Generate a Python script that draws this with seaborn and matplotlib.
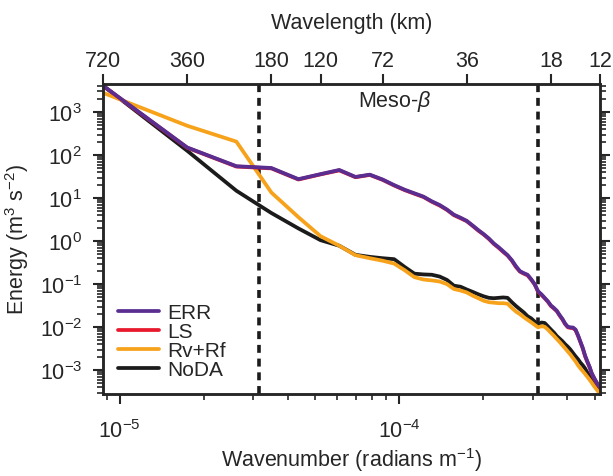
import numpy as np
import pandas as pd
import matplotlib
matplotlib.use("Agg")
import matplotlib.pyplot as plt
import matplotlib.ticker as mticker
import seaborn as sns

# spectral harmonics of a 720 km domain (n = 1 .. 60)
harmonic = np.arange(1, 61)
wavenumber = 2 * np.pi * harmonic / 720e3  # radians m^-1

err = [4100, 150, 55, 50, 27.5, 36, 45, 31, 35, 27,
       20, 15.6, 12.9, 10.8, 8.4, 6.9, 5.4, 4.1, 3.5, 2.95,
       2.3, 1.8, 1.45, 1.15, 0.88, 0.72, 0.58, 0.47, 0.36, 0.26,
       0.2, 0.18, 0.165, 0.13, 0.1, 0.068, 0.058, 0.048, 0.04, 0.032,
       0.028, 0.024, 0.019, 0.0155, 0.012, 0.0102, 0.0099, 0.0098, 0.0088, 0.0065,
       0.0046, 0.0033, 0.0022, 0.0016, 0.0012, 8.5e-4, 6.8e-4, 5.5e-4, 4.6e-4, 4.0e-4]
ls = [4050, 148, 54, 49, 27, 35.5, 44, 30.5, 34.5, 26.5,
      19.6, 15.3, 12.6, 10.6, 8.2, 6.7, 5.3, 4.0, 3.4, 2.9,
      2.25, 1.75, 1.42, 1.12, 0.86, 0.7, 0.56, 0.46, 0.35, 0.25,
      0.195, 0.175, 0.16, 0.127, 0.098, 0.066, 0.056, 0.047, 0.039, 0.031,
      0.027, 0.0235, 0.0185, 0.015, 0.0117, 0.0099, 0.0096, 0.0095, 0.0085, 0.0063,
      0.0045, 0.0032, 0.0021, 0.00155, 0.00117, 8.3e-4, 6.6e-4, 5.4e-4, 4.5e-4, 3.9e-4]
rv_rf = [2800, 480, 205, 13.5, 3.6, 1.3, 0.78, 0.47, 0.4, 0.35,
         0.3, 0.21, 0.145, 0.128, 0.122, 0.115, 0.1, 0.077, 0.071, 0.064,
         0.054, 0.047, 0.041, 0.038, 0.037, 0.036, 0.036, 0.035, 0.028, 0.023,
         0.02, 0.017, 0.0148, 0.013, 0.0113, 0.0099, 0.0105, 0.0102, 0.0088, 0.0074,
         0.0063, 0.0053, 0.0045, 0.0038, 0.0032, 0.0027, 0.0023, 0.0019, 0.0016, 0.0013,
         0.0011, 9.5e-4, 8.2e-4, 7.0e-4, 6.0e-4, 5.1e-4, 4.3e-4, 3.7e-4, 3.2e-4, 2.8e-4]
noda = [4100, 126, 14.8, 4.5, 1.97, 1.05, 0.78, 0.48, 0.43, 0.4,
        0.38, 0.25, 0.175, 0.168, 0.165, 0.15, 0.125, 0.092, 0.087, 0.075,
        0.066, 0.058, 0.052, 0.048, 0.047, 0.048, 0.049, 0.048, 0.038, 0.031,
        0.026, 0.022, 0.018, 0.016, 0.0135, 0.0113, 0.0128, 0.0125, 0.0105, 0.0088,
        0.0075, 0.0062, 0.0054, 0.0047, 0.004, 0.0035, 0.003, 0.0025, 0.0021, 0.0018,
        0.0015, 0.0013, 0.0011, 8.8e-4, 7.4e-4, 6.2e-4, 5.2e-4, 4.4e-4, 3.7e-4, 3.2e-4]

top_wavelengths_km = [720, 360, 180, 120, 72, 36, 18, 12]
meso_beta_km = [200, 20]

sns.set_style("ticks")
plt.rcParams['font.family'] = ['Liberation Sans', 'DejaVu Sans']
plt.rcParams['mathtext.fontset'] = 'custom'
plt.rcParams['mathtext.rm'] = 'Liberation Sans'
plt.rcParams['mathtext.it'] = 'Liberation Sans:italic'
plt.rcParams['mathtext.bf'] = 'Liberation Sans:bold'

FS = 15.5
colors = {'ERR': '#5a2d91', 'LS': '#e8192c', 'Rv+Rf': '#f7a21b', 'NoDA': '#1b1b1b'}

fig = plt.figure(figsize=(6.13, 4.77), dpi=100)
ax = fig.add_axes([0.168, 0.172, 0.811, 0.65])

series = {'NoDA': noda, 'Rv+Rf': rv_rf, 'LS': ls, 'ERR': err}
for name, vals in series.items():
    df = pd.DataFrame({'k': wavenumber, 'E': vals})
    sns.lineplot(data=df, x='k', y='E', ax=ax, color=colors[name], lw=2.7,
                 label=name, sort=False)

for lam in meso_beta_km:
    ax.axvline(2 * np.pi / (lam * 1e3), color='#1b1b1b', lw=2.6,
               ls=(0, (2.2, 1.6)), zorder=1)

ax.set_xscale('log')
ax.set_yscale('log')
ax.set_xlim(wavenumber[0], wavenumber[-1])
ax.set_ylim(2.8e-4, 4.5e3)
ax.yaxis.set_major_locator(mticker.LogLocator(base=10, numticks=20))
ax.yaxis.set_minor_locator(mticker.LogLocator(base=10, subs=np.arange(2, 10), numticks=20))
ax.yaxis.set_minor_formatter(mticker.NullFormatter())
ax.xaxis.set_minor_formatter(mticker.NullFormatter())

ax.set_xlabel('Wavenumber (radians m$^{-1}$)', fontsize=FS, labelpad=2)
ax.set_ylabel('Energy (m$^3$ s$^{-2}$)', fontsize=FS, labelpad=6)
ax.tick_params(which='both', direction='out', width=1.5, labelsize=FS,
               right=True, top=False)
ax.tick_params(which='major', length=7, pad=11)
ax.tick_params(axis='y', which='major', pad=8)
ax.tick_params(which='minor', length=4, width=1.2)
for sp in ax.spines.values():
    sp.set_linewidth(1.8)
    sp.set_visible(True)

top = ax.twiny()
top.set_xscale('log')
top.set_xlim(ax.get_xlim())
top.set_xticks([2 * np.pi / (w * 1e3) for w in top_wavelengths_km])
top.set_xticklabels([str(w) for w in top_wavelengths_km])
top.xaxis.set_minor_locator(mticker.NullLocator())
top.tick_params(direction='out', length=7, width=1.5, labelsize=FS, pad=2)
top.set_xlabel('Wavelength (km)', fontsize=FS, labelpad=16)
for sp in top.spines.values():
    sp.set_linewidth(1.8)

ax.text(0.587, 0.945, r'Meso-$\beta$', transform=ax.transAxes,
        ha='center', va='center', fontsize=FS)

handles, labels = ax.get_legend_handles_labels()
order = ['ERR', 'LS', 'Rv+Rf', 'NoDA']
hmap = dict(zip(labels, handles))
ax.legend([hmap[o] for o in order], order, loc='lower left', frameon=False,
          fontsize=15, handlelength=2.0, handletextpad=0.4, labelspacing=0.0,
          borderaxespad=0.3)

fig.savefig('out.png', dpi=100)
